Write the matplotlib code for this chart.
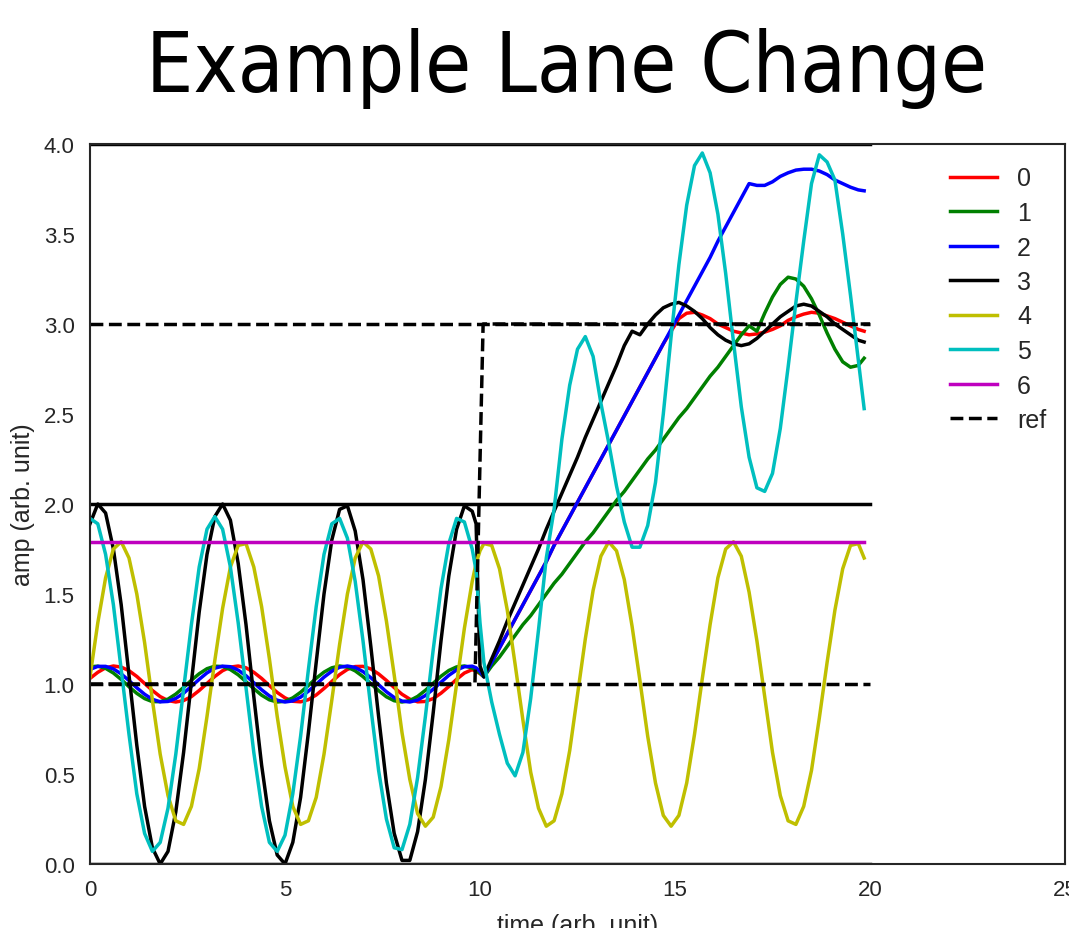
import matplotlib.pyplot as plt

# sample times (arb. unit)
time = [0.0, 0.2, 0.4, 0.6, 0.8, 1.0, 1.2, 1.4, 1.6, 1.8,
        2.0, 2.2, 2.4, 2.6, 2.8, 3.0, 3.2, 3.4, 3.6, 3.8,
        4.0, 4.2, 4.4, 4.6, 4.8, 5.0, 5.2, 5.4, 5.6, 5.8,
        6.0, 6.2, 6.4, 6.6, 6.8, 7.0, 7.2, 7.4, 7.6, 7.8,
        8.0, 8.2, 8.4, 8.6, 8.8, 9.0, 9.2, 9.4, 9.6, 9.8,
        9.9, 10.0, 10.1,
        10.3, 10.5, 10.7, 10.9, 11.1, 11.3, 11.5, 11.7, 11.9, 12.1,
        12.3, 12.5, 12.7, 12.9, 13.1, 13.3, 13.5, 13.7, 13.9, 14.1,
        14.3, 14.5, 14.7, 14.9, 15.1, 15.3, 15.5, 15.7, 15.9, 16.1,
        16.3, 16.5, 16.7, 16.9, 17.1, 17.3, 17.5, 17.7, 17.9, 18.1,
        18.3, 18.5, 18.7, 18.9, 19.1, 19.3, 19.5, 19.7, 19.85]

amp_0 = [1.031, 1.065, 1.090, 1.100, 1.094, 1.074, 1.042, 1.003, 0.964, 0.930,
         0.908, 0.900, 0.908, 0.930, 0.964, 1.003, 1.042, 1.074, 1.094, 1.100,
         1.090, 1.065, 1.031, 0.991, 0.953, 0.923, 0.904, 0.901, 0.913, 0.939,
         0.975, 1.014, 1.052, 1.081, 1.097, 1.098, 1.084, 1.056, 1.020, 0.980,
         0.943, 0.916, 0.901, 0.903, 0.919, 0.949, 0.986, 1.026, 1.061, 1.080,
         1.070, 1.058, 1.040,
         1.12, 1.20, 1.28, 1.36, 1.44, 1.52, 1.60, 1.68, 1.77, 1.85,
         1.93, 2.01, 2.09, 2.17, 2.25, 2.33, 2.41, 2.49, 2.57, 2.65,
         2.73, 2.81, 2.89, 2.96, 3.03, 3.06, 3.065, 3.05, 3.03, 3.00,
         2.98, 2.96, 2.95, 2.94, 2.945, 2.955, 2.97, 2.99, 3.02, 3.04,
         3.055, 3.065, 3.06, 3.045, 3.03, 3.01, 2.99, 2.97, 2.96]

amp_1 = [1.096, 1.099, 1.087, 1.061, 1.025, 0.985, 0.948, 0.919, 0.902, 0.902,
         0.916, 0.944, 0.981, 1.021, 1.057, 1.085, 1.099, 1.097, 1.080, 1.051,
         1.013, 0.974, 0.938, 0.912, 0.900, 0.904, 0.923, 0.954, 0.992, 1.032,
         1.066, 1.090, 1.100, 1.094, 1.073, 1.041, 1.002, 0.963, 0.929, 0.907,
         0.900, 0.908, 0.931, 0.965, 1.004, 1.043, 1.075, 1.095, 1.100, 1.089,
         1.078, 1.060, 1.040,
         1.10, 1.15, 1.21, 1.27, 1.33, 1.38, 1.44, 1.50, 1.56, 1.61,
         1.67, 1.73, 1.79, 1.84, 1.90, 1.96, 2.02, 2.07, 2.13, 2.19,
         2.25, 2.30, 2.36, 2.42, 2.48, 2.53, 2.59, 2.65, 2.71, 2.76,
         2.82, 2.88, 2.94, 2.99, 2.96, 3.06, 3.15, 3.22, 3.26, 3.25,
         3.21, 3.14, 3.05, 2.95, 2.86, 2.79, 2.76, 2.77, 2.81]

amp_2 = [1.081, 1.098, 1.098, 1.084, 1.056, 1.019, 0.979, 0.943, 0.915, 0.901,
         0.903, 0.920, 0.949, 0.987, 1.026, 1.062, 1.088, 1.099, 1.096, 1.077,
         1.046, 1.007, 0.968, 0.934, 0.910, 0.900, 0.906, 0.927, 0.960, 0.998,
         1.038, 1.071, 1.093, 1.100, 1.092, 1.069, 1.035, 0.996, 0.957, 0.925,
         0.905, 0.900, 0.911, 0.936, 0.971, 1.010, 1.048, 1.078, 1.096, 1.099,
         1.090, 1.070, 1.040,
         1.12, 1.20, 1.28, 1.36, 1.44, 1.52, 1.60, 1.68, 1.77, 1.85,
         1.93, 2.01, 2.09, 2.17, 2.25, 2.33, 2.41, 2.49, 2.57, 2.65,
         2.73, 2.81, 2.89, 2.97, 3.05, 3.13, 3.21, 3.29, 3.37, 3.46,
         3.54, 3.62, 3.70, 3.78, 3.77, 3.77, 3.79, 3.82, 3.84, 3.855,
         3.86, 3.86, 3.85, 3.83, 3.80, 3.78, 3.76, 3.745, 3.74]

amp_3 = [1.89, 2.00, 1.95, 1.75, 1.44, 1.05, 0.66, 0.32, 0.09, 0.00,
         0.07, 0.29, 0.62, 1.01, 1.40, 1.72, 1.93, 2.00, 1.91, 1.67,
         1.33, 0.93, 0.55, 0.24, 0.05, 0.00, 0.12, 0.37, 0.73, 1.12,
         1.50, 1.80, 1.97, 1.99, 1.85, 1.58, 1.21, 0.82, 0.45, 0.17,
         0.02, 0.02, 0.18, 0.47, 0.84, 1.24, 1.60, 1.86, 1.99, 1.96,
         1.89, 1.10, 1.04,
         1.14, 1.24, 1.35, 1.45, 1.55, 1.65, 1.75, 1.86, 1.96, 2.06,
         2.16, 2.26, 2.37, 2.47, 2.57, 2.67, 2.77, 2.88, 2.96, 2.94,
         3.00, 3.05, 3.09, 3.11, 3.12, 3.10, 3.07, 3.03, 2.98, 2.94,
         2.91, 2.89, 2.88, 2.89, 2.92, 2.96, 3.00, 3.04, 3.07, 3.10,
         3.11, 3.10, 3.07, 3.04, 3.00, 2.97, 2.94, 2.91, 2.90]

amp_4 = [1.04, 1.34, 1.59, 1.75, 1.79, 1.70, 1.50, 1.23, 0.91, 0.61,
         0.38, 0.24, 0.22, 0.32, 0.53, 0.82, 1.13, 1.42, 1.65, 1.77,
         1.78, 1.65, 1.43, 1.14, 0.82, 0.54, 0.32, 0.22, 0.24, 0.37,
         0.61, 0.91, 1.22, 1.50, 1.70, 1.79, 1.75, 1.60, 1.35, 1.05,
         0.73, 0.47, 0.28, 0.21, 0.26, 0.43, 0.69, 1.00, 1.31, 1.57,
         1.67, 1.74, 1.78,
         1.77, 1.64, 1.41, 1.11, 0.80, 0.51, 0.31, 0.21, 0.24, 0.39,
         0.63, 0.94, 1.25, 1.52, 1.71, 1.79, 1.74, 1.58, 1.32, 1.02,
         0.71, 0.45, 0.27, 0.21, 0.27, 0.45, 0.72, 1.03, 1.33, 1.59,
         1.75, 1.79, 1.71, 1.51, 1.24, 0.93, 0.62, 0.38, 0.24, 0.22,
         0.32, 0.52, 0.81, 1.12, 1.41, 1.64, 1.77, 1.78, 1.70]

amp_5 = [1.92, 1.89, 1.72, 1.44, 1.08, 0.72, 0.39, 0.17, 0.07, 0.12,
         0.31, 0.61, 0.97, 1.33, 1.65, 1.86, 1.93, 1.86, 1.65, 1.34,
         0.98, 0.62, 0.32, 0.12, 0.07, 0.16, 0.39, 0.71, 1.08, 1.43,
         1.72, 1.89, 1.92, 1.81, 1.57, 1.24, 0.87, 0.52, 0.25, 0.09,
         0.08, 0.22, 0.48, 0.82, 1.19, 1.53, 1.78, 1.92, 1.90, 1.75,
         1.63, 1.34, 1.12,
         0.90, 0.72, 0.56, 0.49, 0.62, 0.92, 1.30, 1.70, 1.97, 2.36,
         2.66, 2.86, 2.93, 2.82, 2.56, 2.34, 2.10, 1.90, 1.76, 1.76,
         1.88, 2.12, 2.50, 2.93, 3.33, 3.66, 3.88, 3.95, 3.84, 3.61,
         3.28, 2.90, 2.54, 2.26, 2.09, 2.07, 2.17, 2.42, 2.76, 3.12,
         3.46, 3.78, 3.94, 3.90, 3.80, 3.50, 3.16, 2.80, 2.53]

time_6 = [0.0, 19.85]
amp_6 = [1.79, 1.79]

# lane borders and reference lines
lane_t = [0.0, 20.0]
lane_y = [0.0, 2.0, 4.0]
ref_levels = [1.0, 3.0]
step_t = [0.0, 9.87, 10.08, 20.0]
step_y = [1.0, 1.0, 3.0, 3.0]

series = [amp_0, amp_1, amp_2, amp_3, amp_4, amp_5]
colors = ['r', 'g', 'b', 'k', 'y', 'c', 'm']
lw = 2.5

plt.rcParams['font.family'] = ['Liberation Sans', 'DejaVu Sans']
plt.rcParams['text.color'] = '.15'
plt.rcParams['axes.labelcolor'] = '.15'
plt.rcParams['xtick.color'] = '.15'
plt.rcParams['ytick.color'] = '.15'

fig = plt.figure(figsize=(10.69, 9.29), dpi=100)
ax = fig.add_axes([90 / 1069, 64 / 929, 975 / 1069, 720 / 929])

for y in lane_y:
    ax.plot(lane_t, [y, y], color='k', lw=lw)

for i, vals in enumerate(series):
    ax.plot(time, vals, color=colors[i], lw=lw, label=str(i))
ax.plot(time_6, amp_6, color=colors[6], lw=lw, label='6')

for lvl in ref_levels:
    ax.plot(lane_t, [lvl, lvl], color='k', ls='--', lw=lw)
ax.plot(step_t, step_y, color='k', ls='--', lw=lw, label='ref')

ax.set_xlim(0, 25)
ax.set_ylim(0, 4)
ax.set_xticks([0, 5, 10, 15, 20, 25])
ax.set_yticks([0.0, 0.5, 1.0, 1.5, 2.0, 2.5, 3.0, 3.5, 4.0])
ax.tick_params(length=0, pad=11, labelsize=16)
for sp in ax.spines.values():
    sp.set_color('.15')
    sp.set_linewidth(1.5)

ax.set_xlabel('time (arb. unit)', fontsize=18, labelpad=9)
ax.set_ylabel('amp (arb. unit)', fontsize=18, labelpad=6)

ax.legend(loc='upper right', frameon=False, fontsize=18, labelspacing=0.42,
          handlelength=1.9, bbox_to_anchor=(1.004, 1.0))

fig.text(0.530, 0.901, 'Example Lane Change', ha='center', va='baseline',
         fontsize=60, family='DejaVu Sans', fontstretch='condensed', color='k')

fig.savefig('out.png', dpi=100)
